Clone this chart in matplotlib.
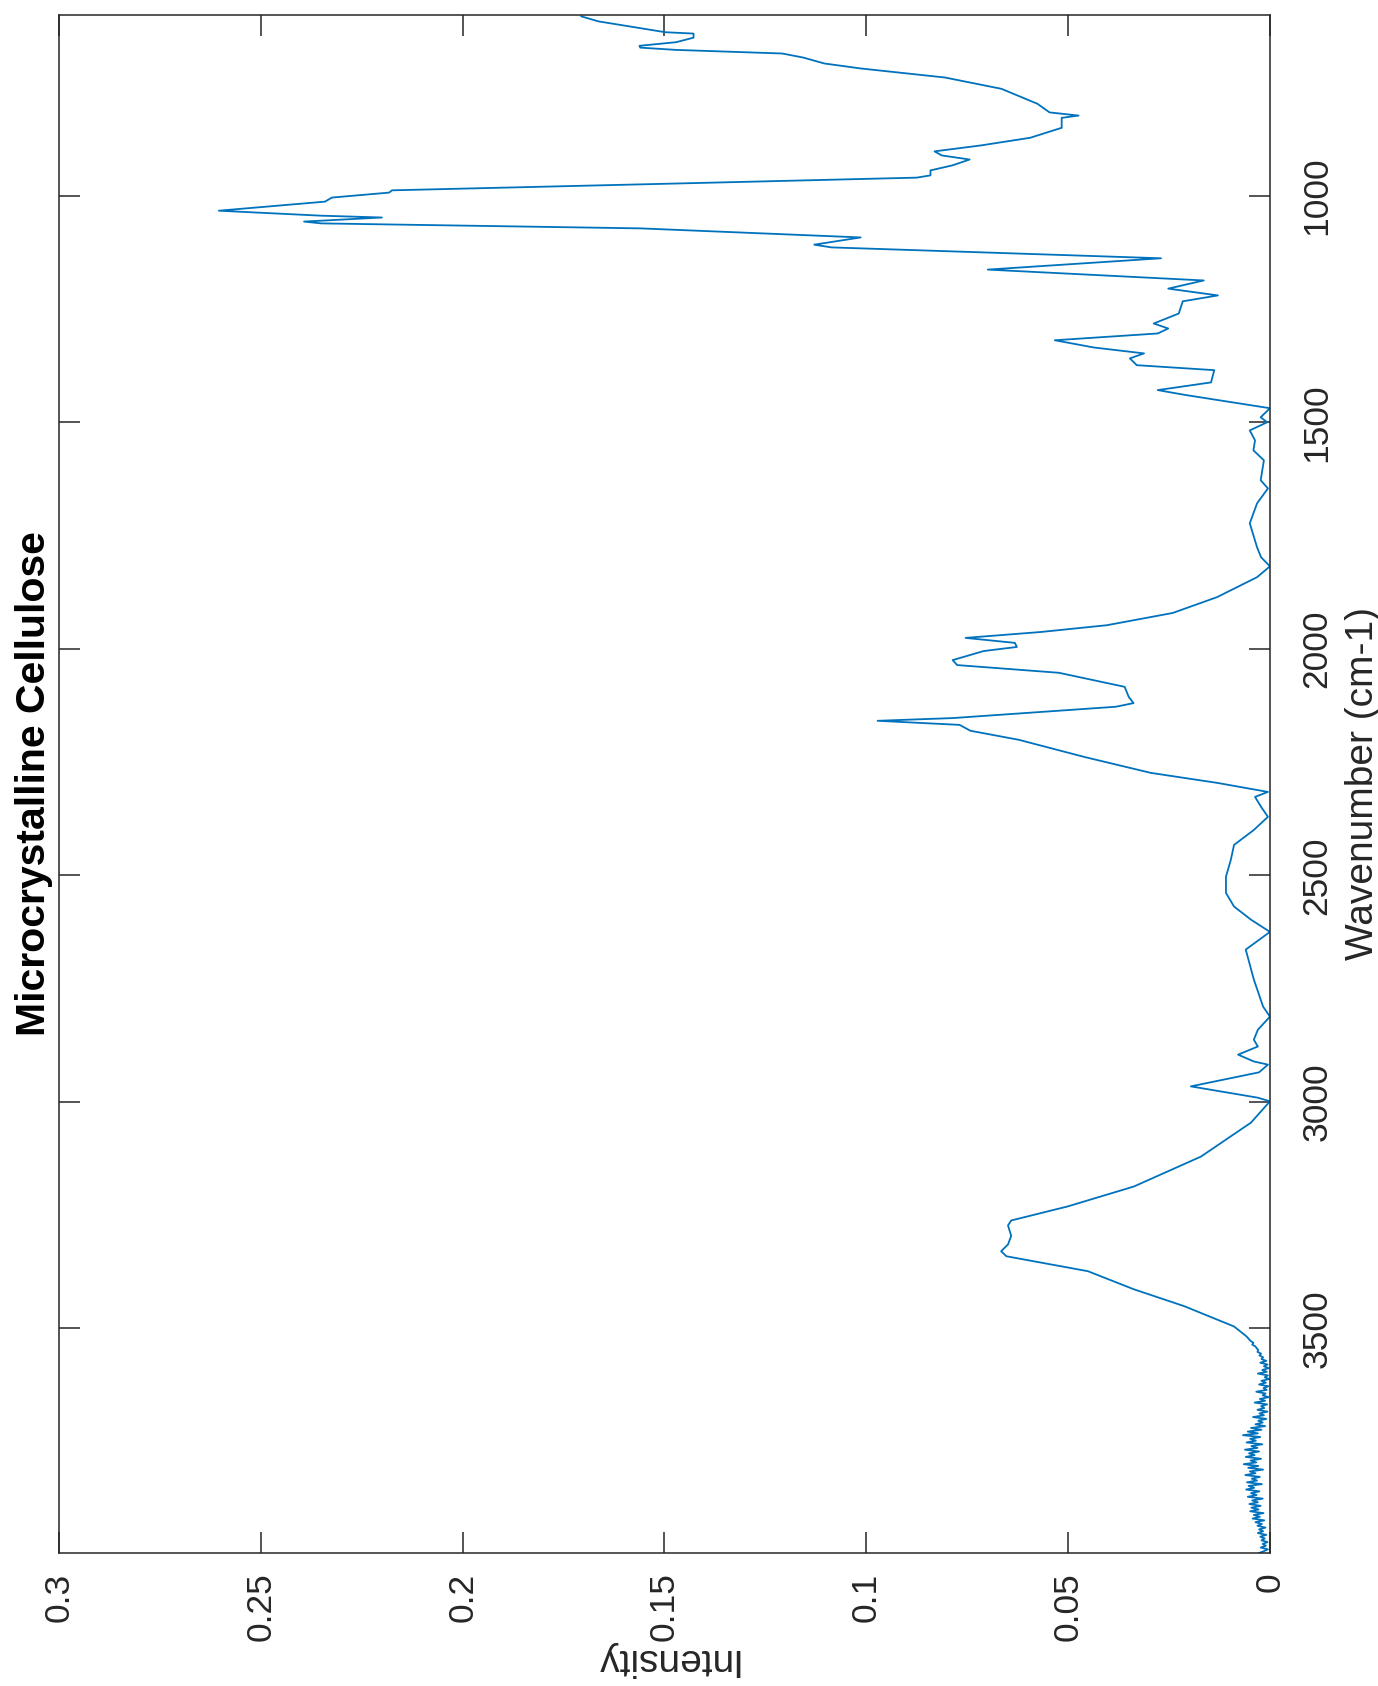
import numpy as np
import matplotlib.pyplot as plt

plt.rcParams['font.family'] = ['Liberation Sans', 'DejaVu Sans']

# spectrum: wavenumber (cm-1) and intensity
wavenumber = [604, 615, 639, 642, 651, 661, 669, 673, 678, 686, 695, 708, 719, 739, 764,
              797, 816, 823, 828, 850, 872, 889, 902, 911, 920, 933, 944, 955, 960, 973,
              988, 993, 1004, 1013, 1033, 1044, 1048, 1057, 1061, 1072, 1092, 1108, 1114,
              1138, 1163, 1187, 1205, 1220, 1233, 1260, 1282, 1293, 1304, 1319, 1335, 1348,
              1359, 1374, 1385, 1412, 1429, 1440, 1469, 1489, 1500, 1518, 1540, 1562, 1584,
              1628, 1646, 1679, 1723, 1776, 1798, 1818, 1842, 1886, 1921, 1948, 1963, 1976,
              1987, 1996, 2005, 2025, 2036, 2053, 2084, 2106, 2120, 2128, 2153, 2159, 2168,
              2181, 2201, 2239, 2274, 2296, 2316, 2327, 2349, 2371, 2400, 2433, 2466, 2503,
              2539, 2569, 2598, 2625, 2664, 2730, 2790, 2812, 2841, 2863, 2878, 2896, 2911,
              2918, 2935, 2966, 2991, 2999, 3046, 3121, 3187, 3231, 3262, 3273, 3296, 3315,
              3330, 3341, 3374, 3414, 3451, 3496, 3518]
intensity = [0.1706, 0.1664, 0.1498, 0.1428, 0.1428, 0.1471, 0.1562, 0.1560, 0.1472, 0.1208,
             0.1156, 0.1104, 0.1014, 0.0805, 0.0665, 0.0576, 0.0546, 0.0474, 0.0516, 0.0516,
             0.0594, 0.0717, 0.0831, 0.0813, 0.0744, 0.0787, 0.0841, 0.0841, 0.0875, 0.1472,
             0.2175, 0.2182, 0.2324, 0.2341, 0.2604, 0.2350, 0.2200, 0.2393, 0.2350, 0.1560,
             0.1014, 0.1129, 0.1086, 0.0270, 0.0699, 0.0164, 0.0252, 0.0129, 0.0216, 0.0226,
             0.0288, 0.0252, 0.0278, 0.0533, 0.0436, 0.0312, 0.0347, 0.0330, 0.0138, 0.0146,
             0.0278, 0.0208, 0.0000, 0.0023, 0.0007, 0.0050, 0.0037, 0.0041, 0.0015, 0.0023,
             0.0005, 0.0032, 0.0050, 0.0032, 0.0022, 0.0000, 0.0032, 0.0131, 0.0241, 0.0404,
             0.0568, 0.0754, 0.0632, 0.0627, 0.0709, 0.0786, 0.0775, 0.0523, 0.0360, 0.0350,
             0.0338, 0.0382, 0.0786, 0.0972, 0.0769, 0.0742, 0.0622, 0.0459, 0.0295, 0.0131,
             0.0005, 0.0037, 0.0022, 0.0005, 0.0040, 0.0089, 0.0097, 0.0109, 0.0109, 0.0089,
             0.0047, 0.0000, 0.0060, 0.0040, 0.0017, 0.0000, 0.0030, 0.0040, 0.0030, 0.0079,
             0.0040, 0.0005, 0.0027, 0.0196, 0.0030, 0.0000, 0.0047, 0.0171, 0.0337, 0.0501,
             0.0641, 0.0649, 0.0641, 0.0649, 0.0666, 0.0653, 0.0451, 0.0337, 0.0213, 0.0089,
             0.0058]

# noisy tail, one reading every 4 cm-1 from 3528
noise_wavenumber = np.arange(3528, 4000, 4)
noise_intensity = [0.0048, 0.0041, 0.0044, 0.0036, 0.0033, 0.0029, 0.0031, 0.0022, 0.0026, 0.0017,
                   0.0021,
                   0.0009, 0.0024, 0.0006, 0.0015, 0.0003, 0.0019, 0.0008, 0.0030, 0.0005, 0.0013,
                   0.0002, 0.0021, 0.0010, 0.0027, 0.0004, 0.0016, 0.0008, 0.0034, 0.0011, 0.0018,
                   0.0003, 0.0025, 0.0012, 0.0038, 0.0007, 0.0022, 0.0014, 0.0031, 0.0006, 0.0026,
                   0.0015, 0.0042, 0.0009, 0.0029, 0.0018, 0.0036, 0.0012, 0.0047,
                   0.0021, 0.0055, 0.0030, 0.0067, 0.0024, 0.0049, 0.0035, 0.0058, 0.0019, 0.0046,
                   0.0031, 0.0062, 0.0027, 0.0052, 0.0038, 0.0060, 0.0022, 0.0048, 0.0034, 0.0065,
                   0.0029, 0.0054, 0.0017, 0.0050, 0.0036, 0.0061, 0.0025, 0.0045, 0.0032, 0.0057,
                   0.0020, 0.0053, 0.0039, 0.0059, 0.0026, 0.0047, 0.0033, 0.0055, 0.0018, 0.0044,
                   0.0030, 0.0051, 0.0023, 0.0046, 0.0028, 0.0049, 0.0016, 0.0040, 0.0025, 0.0043,
                   0.0014, 0.0036, 0.0020, 0.0031, 0.0011, 0.0027, 0.0017, 0.0030, 0.0009, 0.0024,
                   0.0013, 0.0021, 0.0006, 0.0018, 0.0010, 0.0023, 0.0005, 0.0015, 0.0027]

x_ticks = [0, 0.05, 0.1, 0.15, 0.2, 0.25, 0.3]
x_tick_labels = ['0', '0.05', '0.1', '0.15', '0.2', '0.25', '0.3']
y_ticks = [1000, 1500, 2000, 2500, 3000, 3500]

dark = '#262626'

fig = plt.figure(figsize=(13.78, 16.86), dpi=100)
ax = fig.add_axes([0.0428, 0.0789, 0.8788, 0.9122])

wn = np.concatenate([wavenumber, noise_wavenumber])
inten = np.concatenate([intensity, noise_intensity])
ax.plot(inten, wn, color='#0072BD', lw=1.3)

# the whole MATLAB plot is turned a quarter turn: intensity runs right to left
ax.set_xlim(0.3, 0)
ax.set_ylim(3996, 601)

ax.set_xticks(x_ticks)
ax.set_xticklabels(x_tick_labels, rotation=90)
ax.set_yticks(y_ticks)
ax.set_yticklabels([str(t) for t in y_ticks], rotation=90, va='center')
ax.yaxis.tick_right()
ax.tick_params(direction='in', length=15, width=1.1, color=dark, labelcolor=dark,
               labelsize=25.5, top=True, bottom=True, left=True, right=True,
               labelleft=False, labelright=True)
ax.tick_params(axis='x', pad=14)
ax.tick_params(axis='y', pad=22)
for s in ax.spines.values():
    s.set_linewidth(1.1)
    s.set_color(dark)

ax.set_xlabel('Intensity', rotation=180, fontsize=28, color=dark)
ax.xaxis.set_label_coords(0.5, -0.057)
ax.yaxis.set_label_position('right')
ax.set_ylabel('Wavenumber (cm-1)', rotation=90, fontsize=28, color=dark)
ax.yaxis.set_label_coords(1.062, 0.5)

ax.text(-0.021, 0.5, 'Microcrystalline Cellulose', transform=ax.transAxes,
        rotation=90, ha='center', va='center', fontsize=29.5, fontweight='bold',
        color='black')

fig.savefig('out.png', dpi=100)
